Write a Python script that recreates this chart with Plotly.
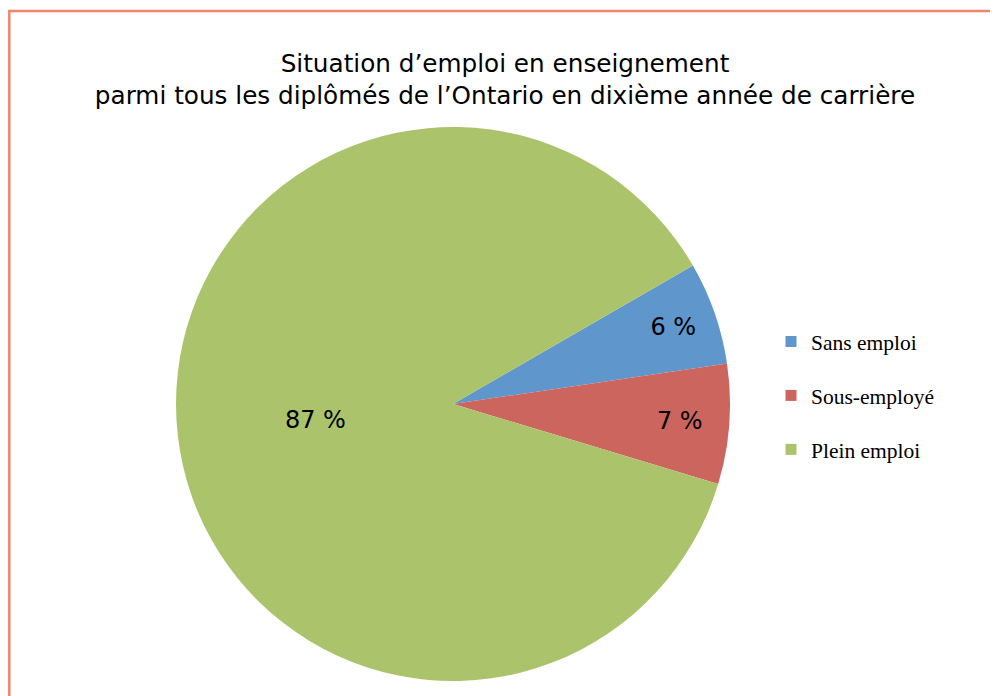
import plotly.graph_objects as go

categories = ["Sans emploi", "Sous-employé", "Plein emploi"]
values = [6, 7, 87]
colors = ["#5f96cc", "#cd655f", "#abc46c"]
title_lines = ["Situation d’emploi en enseignement",
               "parmi tous les diplômés de l’Ontario en dixième année de carrière"]

W, H = 998, 696
OFF = 8  # page body margin
cx, cy, r = 453 - OFF, 404 - OFF, 277

fig = go.Figure()
fig.add_trace(go.Pie(
    labels=categories,
    values=values,
    sort=False,
    direction="clockwise",
    rotation=60,
    marker=dict(colors=colors, line=dict(width=0)),
    text=[f"{v} %" for v in values],
    textinfo="text",
    textposition="inside",
    insidetextorientation="horizontal",
    textfont=dict(family="DejaVu Sans", size=24, color="black"),
    showlegend=False,
    hoverinfo="label+value",
    domain=dict(x=[(cx - r) / W, (cx + r) / W],
                y=[(H - cy - r) / H, (H - cy + r) / H]),
))

# legend entries (one per category)
for name, col in zip(categories, colors):
    fig.add_trace(go.Scatter(
        x=[None], y=[None], mode="markers", name=name, legendgroup=name,
        marker=dict(symbol="square", size=11, color=col),
        showlegend=True,
    ))

fig.update_xaxes(visible=False)
fig.update_yaxes(visible=False)

fig.update_layout(
    width=W, height=H,
    margin=dict(l=0, r=0, t=0, b=0),
    paper_bgcolor="white", plot_bgcolor="white",
    title=dict(text="<br>".join(title_lines),
               x=(505 - OFF) / W, xanchor="center", xref="paper",
               y=1 - 64 / H, yanchor="top", yref="container",
               font=dict(family="DejaVu Sans", size=24.7, color="black")),
    legend=dict(x=(771 - OFF) / W, xanchor="left", y=1 - (321 - OFF) / H, yanchor="top",
                font=dict(family="Liberation Serif", size=21.5, color="black"),
                tracegroupgap=23, bgcolor="rgba(0,0,0,0)"),
    shapes=[dict(type="rect", xref="paper", yref="paper",
                 x0=1.3 / W, y0=-0.05, x1=1.05, y1=1 - (11 - OFF) / H,
                 line=dict(color="#f4856c", width=2.5))],
)

fig.write_html("out.html")
